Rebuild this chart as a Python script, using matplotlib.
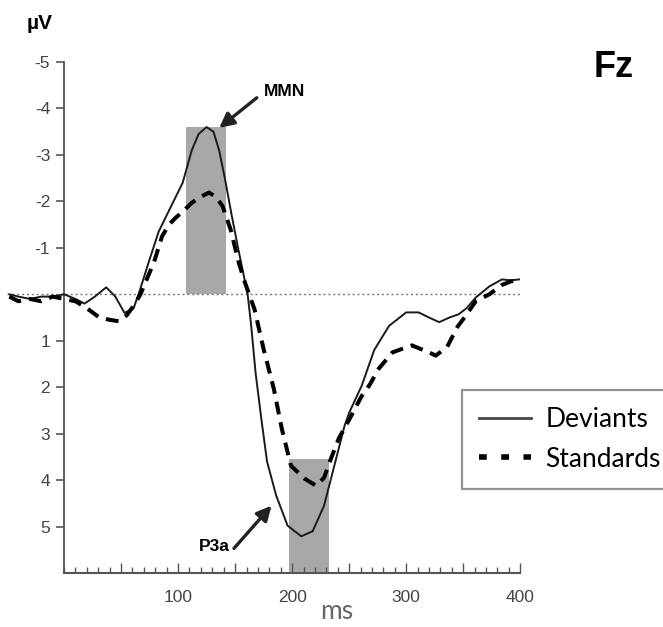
import matplotlib
matplotlib.use("Agg")
import matplotlib.pyplot as plt
from matplotlib.lines import Line2D

# ERP at Fz, deviants vs standards (uV, negative up)
dev_t = [-48, -40, -30, -20, -10, 0, 10, 18, 27, 37, 45, 53, 61, 66, 75, 83, 94, 104,
         112, 118, 125, 131, 136, 141, 147, 153, 161, 164, 168, 173, 178, 186, 196, 208,
         218, 228, 237, 246, 250, 261, 272, 285, 300, 311, 320, 329, 338, 346, 353, 361,
         373, 384, 392, 399]
dev_v = [0.0, 0.05, 0.1, 0.05, 0.05, 0.0, 0.1, 0.2, 0.05, -0.15, 0.05, 0.4, 0.3, -0.05,
         -0.75, -1.35, -1.9, -2.4, -3.1, -3.45, -3.6, -3.5, -3.1, -2.5, -1.7, -0.95, 0.0,
         0.65, 1.7, 2.68, 3.6, 4.33, 4.98, 5.21, 5.1, 4.55, 3.69, 2.83, 2.55, 1.97, 1.2,
         0.68, 0.39, 0.39, 0.5, 0.6, 0.5, 0.43, 0.3, 0.07, -0.17, -0.32, -0.3, -0.32]

std_t = [-48, -40, -30, -20, -10, 0, 10, 20, 31, 40, 48, 55, 61, 67, 73, 79, 86, 92, 98,
         105, 112, 120, 127, 133, 139, 146, 153, 158, 163, 167, 175, 184, 191, 199, 211,
         221, 228, 234, 241, 250, 261, 268, 276, 288, 305, 320, 326, 336, 345, 352, 361,
         373, 384, 392, 399]
std_v = [0.05, 0.15, 0.1, 0.15, 0.05, 0.1, 0.15, 0.3, 0.5, 0.55, 0.58, 0.45, 0.25, 0.0,
         -0.35, -0.7, -1.25, -1.5, -1.65, -1.8, -1.97, -2.1, -2.19, -2.1, -1.9, -1.4, -0.7,
         -0.3, 0.05, 0.32, 1.18, 2.04, 2.9, 3.69, 3.97, 4.12, 3.95, 3.54, 3.1, 2.7, 2.19,
         1.95, 1.6, 1.25, 1.1, 1.25, 1.32, 1.13, 0.7, 0.47, 0.15, 0.0, -0.2, -0.28, -0.3]

# analysis windows (ms) and their heights
mmn_win = [107, 142]
mmn_top = -3.6
p3a_win = [197, 232]
p3a_top = 3.55

y_ticks = [-5, -4, -3, -2, -1, 1, 2, 3, 4, 5]
x_ticks = [50, 100, 150, 200, 250, 300, 350, 400]
x_labels = ["", "100", "", "200", "", "300", "", "400"]

narrow = ["Liberation Sans", "DejaVu Sans"]
grey = "#555555"

fig = plt.figure(figsize=(6.63, 6.27), dpi=100)
ax = fig.add_axes([0.0106, 0.0861, 0.774, 0.815])

ax.fill_between(mmn_win, 0, mmn_top, color="#a8a8a8", lw=0, zorder=1)
ax.fill_between(p3a_win, p3a_top, 6, color="#a8a8a8", lw=0, zorder=1)
ax.axhline(0, ls=(0, (1.5, 2)), color="#777777", lw=1, zorder=2)

ax.plot(dev_t, dev_v, color="#1a1a1a", lw=1.4, zorder=3)
ax.plot(std_t, std_v, color="black", lw=2.9, ls=(0, (3.2, 2.0)), zorder=3)

ax.set_xlim(-50, 400)
ax.set_ylim(6, -5)

for s in ["top", "right"]:
    ax.spines[s].set_visible(False)
ax.spines["left"].set_position(("data", 0))
ax.spines["left"].set_bounds(-5, 6)
ax.spines["bottom"].set_bounds(0, 400)
ax.spines["left"].set_color(grey)
ax.spines["bottom"].set_color(grey)
ax.spines["left"].set_linewidth(1.3)
ax.spines["bottom"].set_linewidth(1.5)

ax.set_yticks(y_ticks)
ax.set_yticklabels([str(v) for v in y_ticks], family=narrow, fontsize=12.5, color="#444444")
ax.tick_params(axis="y", direction="out", length=6, width=1.2, color=grey, pad=4)

ax.set_xticks(x_ticks)
ax.set_xticklabels(x_labels, family=narrow, fontsize=12.5, color="#444444")
ax.set_xticks(range(0, 401, 10), minor=True)
ax.tick_params(axis="x", which="major", direction="in", length=7, width=1, color=grey, pad=12)
ax.tick_params(axis="x", which="minor", direction="in", length=4, width=1, color=grey)

# labels
fig.text(0.06, 0.962, "µV", family=narrow, fontsize=15, weight="bold", ha="center", va="center")
fig.text(0.925, 0.893, "Fz", family=narrow, fontsize=26, weight="bold", ha="center", va="center")
fig.text(0.508, 0.024, "ms", family="Lato", fontsize=19, color="#666666", ha="center", va="center")

arrow = dict(arrowstyle="-|>", lw=2.4, color="#222222", mutation_scale=22, shrinkA=0, shrinkB=0)
ax.annotate("", xy=(136, -3.58), xytext=(169, -4.23), arrowprops=arrow)
ax.text(193, -4.36, "MMN", family=narrow, fontsize=12.5, weight="bold", ha="center", va="center")
ax.annotate("", xy=(182, 4.55), xytext=(149, 5.47), arrowprops=arrow)
ax.text(132, 5.43, "P3a", family=narrow, fontsize=12.5, weight="bold", ha="center", va="center")

handles = [Line2D([], [], color="#444444", lw=2),
           Line2D([], [], color="black", lw=4, ls=(0, (1.4, 2.6)))]
leg = ax.legend(handles, ["Deviants", "Standards"], loc="upper left",
                bbox_to_anchor=(0.697, 0.378), bbox_transform=fig.transFigure,
                prop={"family": "Lato", "size": 19}, fancybox=False, frameon=True,
                edgecolor="#777777", handlelength=1.95, handletextpad=0.55,
                borderpad=0.65, labelspacing=0.55, borderaxespad=0)
leg.get_frame().set_linewidth(1.6)

fig.savefig("out.png", dpi=100)
